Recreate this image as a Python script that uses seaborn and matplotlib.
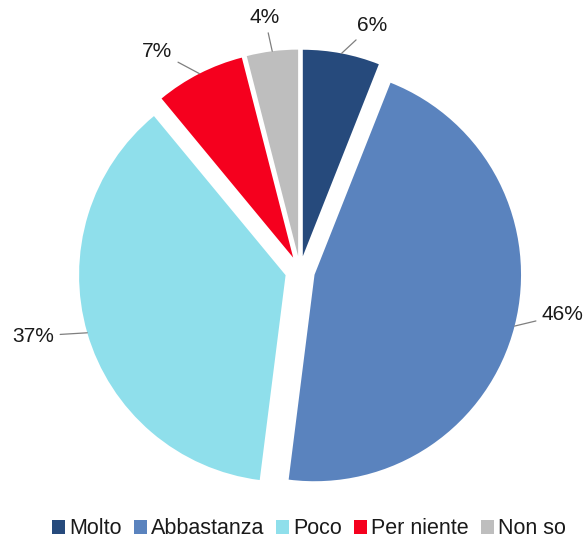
import numpy as np
import matplotlib
matplotlib.use("Agg")
import matplotlib.pyplot as plt
import seaborn as sns

categories = ["Molto", "Abbastanza", "Poco", "Per niente", "Non so"]
values = [6, 46, 37, 7, 4]
labels = ["6%", "46%", "37%", "7%", "4%"]

colors = ["#264A7C", "#5A83BE", "#8FDFEB", "#F5001E", "#BEBEBE"]
# label placement style: (radius, angle offset in degrees)
label_style = [(1.24, -5.5), (1.29, 5.0), (1.33, -2.5), (1.27, 6.0), (1.24, 0.7)]

sns.set_theme(style="white")
plt.rcParams["font.family"] = ["Liberation Sans", "DejaVu Sans"]

W, H = 587, 539
fig = plt.figure(figsize=(W / 100, H / 100), dpi=100)
ax = fig.add_axes([0, 0, 1, 1])

R_px = 206.5
cx, cy = 300, 271
explode_val = 15 / R_px

wedges, _ = ax.pie(values, colors=colors, startangle=90, counterclock=False,
                   explode=[explode_val] * len(values), radius=1.0,
                   wedgeprops=dict(linewidth=0))

for w, lab, (lr, da) in zip(wedges, labels, label_style):
    mid = np.deg2rad((w.theta1 + w.theta2) / 2)
    dirv = np.array([np.cos(mid), np.sin(mid)])
    anchor = dirv * (1 + explode_val)
    ang = mid + np.deg2rad(da)
    tpos = np.array([np.cos(ang), np.sin(ang)]) * lr
    ax.annotate(lab, xy=anchor, xytext=tpos, ha="center", va="center",
                fontsize=15, color="#1a1a1a",
                arrowprops=dict(arrowstyle="-", color="#7f7f7f", lw=0.9,
                                shrinkA=2, shrinkB=0))

ax.set_xlim((0 - cx) / R_px, (W - cx) / R_px)
ax.set_ylim((cy - H) / R_px, cy / R_px)
ax.set_aspect("equal")
ax.axis("off")

leg = fig.legend(wedges, categories, loc="center", bbox_to_anchor=(309 / W, 1 - 529 / H),
                 ncol=5, frameon=False, fontsize=15.5, handlelength=0.6, handleheight=0.6,
                 handletextpad=0.19, columnspacing=0.56, borderaxespad=0)
for t in leg.get_texts():
    t.set_color("#1a1a1a")

fig.savefig("out.png", dpi=100)
